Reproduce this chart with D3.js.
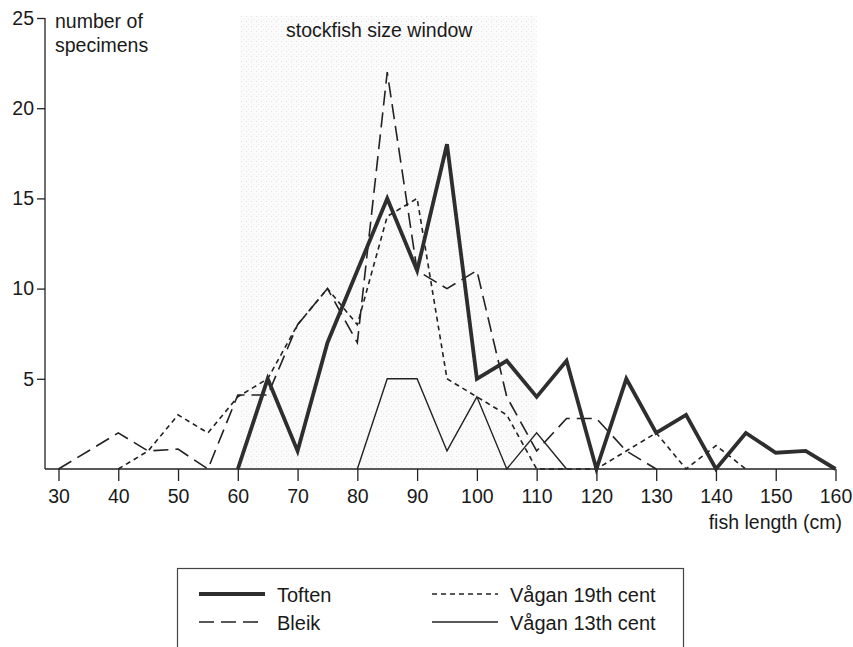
<!DOCTYPE html>
<html>
<head>
<meta charset="utf-8">
<script src="https://cdn.jsdelivr.net/npm/d3@7"></script>
<style>
  body { margin: 0; background: #fff; }
  svg text { font-family: "Liberation Sans", Arial, sans-serif; fill: #1a1a1a; }
</style>
</head>
<body>
<div id="graf"></div>
<script>
// Datos (longitud en cm, número de especímenes)
const toften = [[60,0],[65,5],[70,1],[75,7],[80,11],[85,15],[90,11],[95,18],[100,5],[105,6],[110,4],[115,6],[120,0],[125,5],[130,2],[135,3],[140,0],[145,2],[150,0.9],[155,1],[160,0]]
const bleik = [[30,0],[35,1],[40,2],[45,1],[50,1.1],[55,0],[60,4.1],[65,4.1],[70,8],[75,10],[80,7],[85,22],[90,11],[95,10],[100,11],[105,4],[110,1],[115,2.8],[120,2.8],[125,1],[130,0]]
const vagan19 = [[40,0],[45,1],[50,3],[55,2],[60,4],[65,5],[70,8],[75,10],[80,8],[85,14],[90,15],[95,5],[100,4],[105,3],[110,0],[115,0],[120,0],[125,1],[130,2],[135,0],[140,1.3],[145,0]]
const vagan13 = [[80,0],[85,5],[90,5],[95,1],[100,4],[105,0],[110,2],[115,0]]

const xTicks = [30,40,50,60,70,80,90,100,110,120,130,140,150,160]
const yTicks = [5,10,15,20,25]
const ventana = [60, 110]

const draw = () => {
  const svg = d3.select("#graf")
    .append("svg")
    .attr("width", 853)
    .attr("height", 647)

  const x = d3.scaleLinear().domain([30, 160]).range([58.5, 835.5])
  const y = d3.scaleLinear().domain([0, 25]).range([469, 18])

  // Ventana de tamaño (sombreado muy tenue)
  const defs = svg.append("defs")
  const pat = defs.append("pattern")
    .attr("id", "stipple")
    .attr("width", 5).attr("height", 5)
    .attr("patternUnits", "userSpaceOnUse")
  pat.append("rect").attr("width", 5).attr("height", 5).attr("fill", "#fbfbfb")
  pat.append("rect").attr("x", 1).attr("y", 1).attr("width", 1).attr("height", 1).attr("fill", "#e2e2e2")
  pat.append("rect").attr("x", 3).attr("y", 4).attr("width", 1).attr("height", 1).attr("fill", "#ebebeb")

  svg.append("rect")
    .attr("x", x(ventana[0]) + 2)
    .attr("y", 16)
    .attr("width", x(ventana[1]) - x(ventana[0]) - 2)
    .attr("height", y(0) - 16)
    .attr("fill", "url(#stipple)")

  svg.append("text")
    .attr("x", 286)
    .attr("y", 37)
    .style("font-size", "19.5px")
    .text("stockfish size window")

  // Ejes
  const yAxis = d3.axisLeft(y).tickValues(yTicks).tickSize(8).tickSizeOuter(0).tickPadding(3)
  const yG = svg.append("g")
    .attr("transform", "translate(45,0)")
    .call(yAxis)
  yG.select(".domain").attr("d", `M0,${y(25)}V${y(0)}`)

  const xAxis = d3.axisBottom(x).tickValues(xTicks).tickSize(12).tickSizeOuter(0).tickPadding(8)
  const xG = svg.append("g")
    .attr("transform", `translate(0,${y(0)})`)
    .call(xAxis)
  xG.select(".domain").attr("d", `M45,0H${x(160)}`)

  svg.selectAll(".tick text")
    .style("font-size", "19.5px")
    .attr("fill", "#1a1a1a")
  svg.selectAll(".domain, .tick line")
    .attr("stroke", "#222")
    .attr("stroke-width", 1.3)

  svg.append("text").attr("x", 55).attr("y", 28).style("font-size", "19.5px").text("number of")
  svg.append("text").attr("x", 55).attr("y", 52).style("font-size", "19.5px").text("specimens")
  svg.append("text").attr("x", 842).attr("y", 529).attr("text-anchor", "end").style("font-size", "19.5px").text("fish length (cm)")

  // Series
  const line = d3.line().x((d) => x(d[0])).y((d) => y(d[1]))
  const series = [
    { name: "Vågan 13th cent", data: vagan13, width: 1.4, dash: null, color: "#222" },
    { name: "Vågan 19th cent", data: vagan19, width: 1.6, dash: "5,4", color: "#222" },
    { name: "Bleik", data: bleik, width: 1.6, dash: "15,7", color: "#222" },
    { name: "Toften", data: toften, width: 3.8, dash: null, color: "#2e2e2e" },
  ]

  svg.append("g")
    .selectAll("path")
    .data(series)
    .join("path")
    .attr("fill", "none")
    .attr("stroke", (d) => d.color)
    .attr("stroke-width", (d) => d.width)
    .attr("stroke-dasharray", (d) => d.dash)
    .attr("stroke-linejoin", "miter")
    .attr("d", (d) => line(d.data))

  // Leyenda
  svg.append("rect")
    .attr("x", 177.5).attr("y", 568.5)
    .attr("width", 506).attr("height", 100)
    .attr("fill", "none")
    .attr("stroke", "#444")
    .attr("stroke-width", 1.2)

  const leyenda = [
    { s: series[3], x: 199, y: 594 },
    { s: series[2], x: 199, y: 622 },
    { s: series[1], x: 432, y: 594 },
    { s: series[0], x: 432, y: 622 },
  ]
  const lg = svg.append("g").selectAll("g").data(leyenda).join("g")
  lg.append("line")
    .attr("x1", (d) => d.x).attr("x2", (d) => d.x + 66)
    .attr("y1", (d) => d.y).attr("y2", (d) => d.y)
    .attr("stroke", (d) => d.s.color)
    .attr("stroke-width", (d) => d.s.width)
    .attr("stroke-dasharray", (d) => d.s.dash)
  lg.append("text")
    .attr("x", (d) => d.x + 78)
    .attr("y", (d) => d.y + 8)
    .style("font-size", "20px")
    .text((d) => d.s.name)
}

draw()
</script>
</body>
</html>
